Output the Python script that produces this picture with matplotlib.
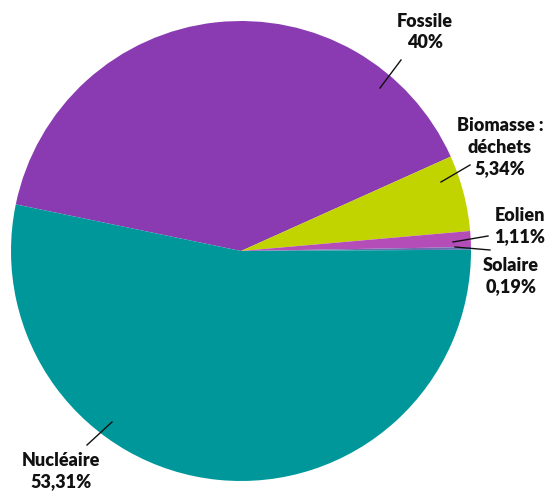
import matplotlib.pyplot as plt

# energy mix
labels = ['Fossile', 'Biomasse :\ndéchets', 'Eolien', 'Solaire', 'Nucléaire']
values = [40, 5.34, 1.11, 0.19, 53.31]
pct_text = ['40%', '5,34%', '1,11%', '0,19%', '53,31%']
colors = ['#8a3bb1', '#c2d400', '#b54db9', '#6a6fb0', '#00979b']

W, H = 548, 491
fig = plt.figure(figsize=(W / 100, H / 100), dpi=100)
ax = fig.add_axes([0, 0, 1, 1])

cx, cy, r = 241, H - 251, 230
ax.pie(values, colors=colors, startangle=168.3, counterclock=False,
       center=(cx, cy), radius=r, frame=True,
       wedgeprops={'linewidth': 0})
ax.set_xlim(0, W)
ax.set_ylim(0, H)
ax.set_aspect('equal')
ax.axis('off')

# label positions (pixel coords, y from top) and leader lines
text_pos = [(425, 32), (500, 147), (520, 226), (511, 276), (61, 471)]
leaders = [((401, 60), (380, 88)),
           ((470, 165), (441, 182)),
           ((488, 236), (453, 242)),
           ((490, 250), (455, 247)),
           ((87, 445), (112, 422))]

for lab, pct, (tx, ty), (p0, p1) in zip(labels, pct_text, text_pos, leaders):
    ax.text(tx, H - ty, lab + '\n' + pct, ha='center', va='center',
            fontsize=13, fontweight='heavy', family='Lato',
            color='#111111', linespacing=1.3)
    ax.plot([p0[0], p1[0]], [H - p0[1], H - p1[1]], color='#111111', lw=1)

plt.savefig('out.png', dpi=100)
